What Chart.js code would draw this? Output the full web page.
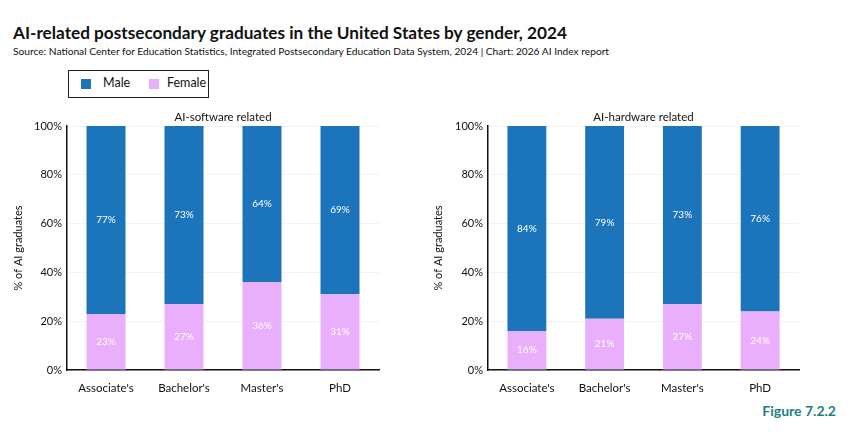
<!DOCTYPE html>
<html lang="en">
<head>
  <meta charset="UTF-8" />
  <title>AI-related postsecondary graduates by gender, 2024</title>
  <script src="https://cdn.jsdelivr.net/npm/chart.js"></script>
  <style>
    body {
      margin: 0;
      width: 850px;
      height: 433px;
      background: #ffffff;
      font-family: 'Lato', sans-serif;
      color: #111;
      position: relative;
      overflow: hidden;
    }
    h1 {
      position: absolute;
      left: 13px;
      top: 22px;
      margin: 0;
      font-size: 17.2px;
      font-weight: 700;
    }
    .source {
      position: absolute;
      left: 13px;
      top: 45px;
      font-size: 10.2px;
    }
    .legend {
      position: absolute;
      left: 68px;
      top: 70px;
      width: 139px;
      height: 26px;
      border: 1.5px solid #222;
      font-size: 12.5px;
    }
    .legend span.box {
      position: absolute;
      top: 8px;
      width: 10px;
      height: 10px;
    }
    .legend span.txt {
      position: absolute;
      top: 4px;
    }
    .panel {
      position: absolute;
      top: 105px;
      width: 400px;
      height: 290px;
    }
    .fig {
      position: absolute;
      right: 14px;
      top: 402px;
      font-size: 14px;
      font-weight: 700;
      color: #1b7f7f;
    }
  </style>
</head>
<body>
  <h1>AI-related postsecondary graduates in the United States by gender, 2024</h1>
  <div class="source">Source: National Center for Education Statistics, Integrated Postsecondary Education Data System, 2024 | Chart: 2026 AI Index report</div>
  <div class="legend">
    <span class="box" style="left:12px; background:#1c75bb"></span>
    <span class="txt" style="left:34px">Male</span>
    <span class="box" style="left:80px; background:#e9affc"></span>
    <span class="txt" style="left:98px">Female</span>
  </div>

  <div class="panel" style="left:0px"><canvas id="software"></canvas></div>
  <div class="panel" style="left:420px"><canvas id="hardware"></canvas></div>
  <div class="fig">Figure 7.2.2</div>

  <script>
    const degrees = ["Associate's", "Bachelor's", "Master's", "PhD"];
    const softwareMale = [77, 73, 64, 69];
    const softwareFemale = [23, 27, 36, 31];
    const hardwareMale = [84, 79, 73, 76];
    const hardwareFemale = [16, 21, 27, 24];
    const yTicks = [0, 20, 40, 60, 80, 100];

    const maleColor = '#1c75bb';
    const femaleColor = '#e9affc';
    const fontFamily = 'Lato, sans-serif';

    // white % labels in the middle of each segment
    const segmentLabels = {
      id: 'segmentLabels',
      afterDatasetsDraw(chart) {
        const ctx = chart.ctx;
        ctx.save();
        ctx.fillStyle = '#ffffff';
        ctx.font = '10px ' + fontFamily;
        ctx.textAlign = 'center';
        ctx.textBaseline = 'middle';
        chart.data.datasets.forEach((ds, i) => {
          chart.getDatasetMeta(i).data.forEach((bar, j) => {
            const mid = (bar.y + bar.base) / 2;
            ctx.fillText(ds.data[j] + '%', bar.x, mid);
          });
        });
        ctx.restore();
      }
    };

    // panel heading above the plot area
    const panelTitle = {
      id: 'panelTitle',
      afterDraw(chart, args, opts) {
        const ctx = chart.ctx;
        const area = chart.chartArea;
        ctx.save();
        ctx.fillStyle = '#111';
        ctx.font = '11.5px ' + fontFamily;
        ctx.textAlign = 'center';
        ctx.textBaseline = 'middle';
        ctx.fillText(opts.text, (area.left + area.right) / 2, area.top - 9);
        ctx.restore();
      }
    };

    function makeChart(id, title, male, female, axisLeft) {
      return new Chart(document.getElementById(id), {
        type: 'bar',
        data: {
          labels: degrees,
          datasets: [
            { label: 'Female', data: female, backgroundColor: femaleColor },
            { label: 'Male', data: male, backgroundColor: maleColor }
          ]
        },
        plugins: [segmentLabels, panelTitle],
        options: {
          responsive: true,
          maintainAspectRatio: false,
          animation: false,
          categoryPercentage: 1,
          barPercentage: 0.5,
          layout: { padding: { left: 0, right: 21, top: 21, bottom: 0 } },
          plugins: {
            legend: { display: false },
            tooltip: { enabled: false },
            panelTitle: { text: title }
          },
          scales: {
            x: {
              stacked: true,
              grid: { display: false },
              border: { color: '#111', width: 1.5 },
              ticks: { color: '#111', font: { size: 11.5, family: fontFamily }, padding: 3 },
              afterFit(scale) { scale.height = 25; }
            },
            y: {
              stacked: true,
              min: 0,
              max: 100,
              afterBuildTicks(scale) { scale.ticks = yTicks.map(v => ({ value: v })); },
              grid: { color: '#f2f2f2', drawTicks: false },
              border: { color: '#111', width: 1.5 },
              ticks: {
                color: '#111',
                font: { size: 11, family: fontFamily },
                padding: 5,
                callback: v => v + '%'
              },
              title: {
                display: true,
                text: '% of AI graduates',
                color: '#111',
                font: { size: 11, family: fontFamily },
                padding: { top: 12, bottom: 0 }
              },
              afterFit(scale) { scale.width = axisLeft; }
            }
          }
        }
      });
    }

    makeChart('software', 'AI-software related', softwareMale, softwareFemale, 67);
    makeChart('hardware', 'AI-hardware related', hardwareMale, hardwareFemale, 68);
  </script>
</body>
</html>
